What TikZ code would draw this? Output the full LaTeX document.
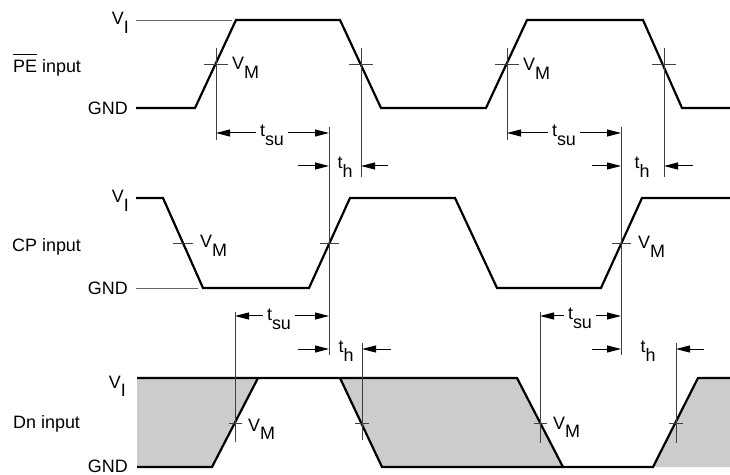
\documentclass[tikz,border=0pt]{standalone}
\usepackage{fontspec}
\setmainfont{Liberation Sans}
\usetikzlibrary{arrows.meta}
\newcommand\lowsub[1]{\raisebox{-0.45em}{#1}}
\begin{document}
\begin{tikzpicture}[x=1bp,y=-1bp,
  wave/.style={line width=2.2bp, line join=miter},
  thinln/.style={line width=0.8bp, black!75},
  refln/.style={line width=0.9bp, black!60},
  arr/.style={line width=1bp, black, -{Triangle[length=14bp,width=7bp]}},
  lbl/.style={font=\fontsize{18}{20}\selectfont, inner sep=0pt},
  tlbl/.style={lbl, inner xsep=4bp, anchor=base},
  shadefill/.style={fill=black!20, draw=none}]
\useasboundingbox (0,0) rectangle (730,475);

% ---------- row labels ----------
\node[lbl, anchor=base west] (pe) at (13,73) {$\overline{\mbox{PE}\rule{0pt}{0.95em}}$ input};
\node[lbl, anchor=base west] (cp) at (12,252) {CP input};
\node[lbl, anchor=base west] (dn) at (13,428) {Dn input};

\node[lbl, anchor=base east] (pevi) at (129,25) {V\lowsub{I}};
\node[lbl, anchor=base east] (pegnd) at (128,115) {GND};
\node[lbl, anchor=base east] (cpvi) at (129,203) {V\lowsub{I}};
\node[lbl, anchor=base east] (cpgnd) at (128,295) {GND};
\node[lbl, anchor=base east] (dnvi) at (126,388) {V\lowsub{I}};
\node[lbl, anchor=base east] (dngnd) at (128,472) {GND};

% ---------- reference lines ----------
\draw[refln] (136,20) -- (232,20);
\draw[refln] (136,288) -- (198,288);

% ---------- PE waveform ----------
\draw[wave] (136,108) -- (195,108) -- (236,20) -- (340,20) -- (381,108)
  -- (486,108) -- (527,20) -- (643,20) -- (682,108) -- (730,108);

% ---------- CP waveform ----------
\draw[wave] (136,198) -- (163,198) -- (203,288) -- (309,288) -- (350,198)
  -- (455,198) -- (497,288) -- (601,288) -- (642,198) -- (730,198);

% ---------- Dn waveform ----------
\fill[shadefill] (137,378) -- (258,378) -- (212,467) -- (137,467) -- cycle;
\fill[shadefill] (340,378) -- (517,378) -- (563,467) -- (382,467) -- cycle;
\fill[shadefill] (698,378) -- (730,378) -- (730,467) -- (653,467) -- cycle;
\draw[wave] (137,378) -- (517,378) -- (563,467);
\draw[wave] (137,467) -- (212,467) -- (258,378);
\draw[wave] (340,378) -- (382,467) -- (653,467) -- (698,378) -- (730,378);

% ---------- vertical measuring lines ----------
\draw[thinln] (216,48) -- (216,140);
\draw[thinln] (361,48) -- (361,177);
\draw[thinln] (329,127) -- (329,355);
\draw[thinln] (507,48) -- (507,140);
\draw[thinln] (664,48) -- (664,177);
\draw[thinln] (621,127) -- (621,355);
\draw[thinln] (235,312) -- (235,442);
\draw[thinln] (362,343) -- (362,440);
\draw[thinln] (540,312) -- (540,443);
\draw[thinln] (676,343) -- (676,443);

% ---------- V_M ticks ----------
\draw[thinln] (204,64) -- (228,64);
\draw[thinln] (349,64) -- (373,64);
\draw[thinln] (495,64) -- (519,64);
\draw[thinln] (652,64) -- (676,64);
\draw[thinln] (173,243) -- (193,243);
\draw[thinln] (320,243) -- (339,243);
\draw[thinln] (612,243) -- (631,243);
\draw[thinln] (229,423) -- (242,423);
\draw[thinln] (355,423) -- (369,423);
\draw[thinln] (534,423) -- (547,423);
\draw[thinln] (669,423) -- (683,423);

% ---------- V_M labels ----------
\node[lbl, anchor=base west] (vm1) at (232,70) {V\lowsub{M}};
\node[lbl, anchor=base west] (vm2) at (523,71) {V\lowsub{M}};
\node[lbl, anchor=base west] (vm3) at (200,248) {V\lowsub{M}};
\node[lbl, anchor=base west] (vm4) at (638,249) {V\lowsub{M}};
\node[lbl, anchor=base west] (vm5) at (248,431) {V\lowsub{M}};
\node[lbl, anchor=base west] (vm6) at (553,429) {V\lowsub{M}};

% ---------- arrow end points ----------
\coordinate (s1l) at (216,133);  \coordinate (s1r) at (329,133);
\coordinate (s2l) at (507,133);  \coordinate (s2r) at (621,133);
\coordinate (h1a) at (298,166);  \coordinate (h1l) at (329,166);
\coordinate (h1r) at (361,166);  \coordinate (h1b) at (388,166);
\coordinate (h2a) at (592,166);  \coordinate (h2l) at (621,166);
\coordinate (h2r) at (664,166);  \coordinate (h2b) at (693,166);
\coordinate (s3l) at (235,316);  \coordinate (s3r) at (329,316);
\coordinate (s4l) at (540,316);  \coordinate (s4r) at (621,316);
\coordinate (h3a) at (298,349);  \coordinate (h3l) at (329,349);
\coordinate (h3r) at (362,349);  \coordinate (h3b) at (391,349);
\coordinate (h4a) at (592,349);  \coordinate (h4l) at (621,349);
\coordinate (h4r) at (676,349);  \coordinate (h4b) at (704,349);

% ---------- t_su ----------
\node[tlbl] (tsu1) at (272,137) {t\lowsub{su}};
\node[tlbl] (tsu2) at (564,137) {t\lowsub{su}};
\node[tlbl] (tsu3) at (279,321) {t\lowsub{su}};
\node[tlbl] (tsu4) at (580,320) {t\lowsub{su}};
\draw[arr] (tsu1.west |- s1l) -- (s1l);
\draw[arr] (tsu1.east |- s1r) -- (s1r);
\draw[arr] (tsu2.west |- s2l) -- (s2l);
\draw[arr] (tsu2.east |- s2r) -- (s2r);
\draw[arr] (tsu3.west |- s3l) -- (s3l);
\draw[arr] (tsu3.east |- s3r) -- (s3r);
\draw[arr] (tsu4.west |- s4l) -- (s4l);
\draw[arr] (tsu4.east |- s4r) -- (s4r);

% ---------- t_h ----------
\node[tlbl] (th1) at (345,169) {t\lowsub{h}};
\node[tlbl] (th2) at (642,169) {t\lowsub{h}};
\node[tlbl] (th3) at (346,353) {t\lowsub{h}};
\node[tlbl] (th4) at (648,353) {t\lowsub{h}};
\draw[arr] (h1a) -- (h1l);
\draw[arr] (h1b) -- (h1r);
\draw[arr] (h2a) -- (h2l);
\draw[arr] (h2b) -- (h2r);
\draw[arr] (h3a) -- (h3l);
\draw[arr] (h3b) -- (h3r);
\draw[arr] (h4a) -- (h4l);
\draw[arr] (h4b) -- (h4r);
\end{tikzpicture}
\end{document}
